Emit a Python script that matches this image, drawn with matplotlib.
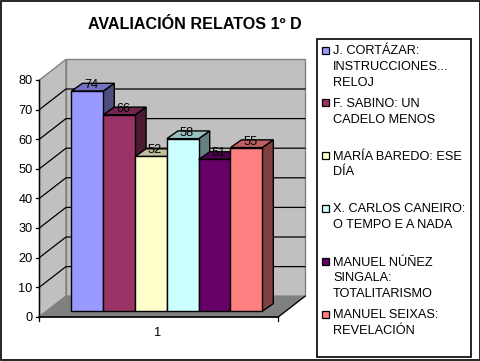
import matplotlib
matplotlib.use("Agg")
import numpy as np
import matplotlib.pyplot as plt
from matplotlib.patches import Polygon, Rectangle

plt.rcParams['font.family'] = ['Liberation Sans', 'DejaVu Sans']

names = [
    ["J. CORTÁZAR:", "INSTRUCCIONES...", "RELOJ"],
    ["F. SABINO: UN", "CADELO MENOS"],
    ["MARÍA BAREDO: ESE", "DÍA"],
    ["X. CARLOS CANEIRO:", "O TEMPO E A NADA"],
    ["MANUEL NÚÑEZ", "SINGALA:", "TOTALITARISMO"],
    ["MANUEL SEIXAS:", "REVELACIÓN"],
]
values = [74, 66, 52, 58, 51, 55]
colors = ["#9999FF", "#993366", "#FFFFCC", "#CCFFFF", "#660066", "#FF8080"]
y_ticks = [0, 10, 20, 30, 40, 50, 60, 70, 80]

W, H = 481, 361
FS = 9.15
CAP = 4.5  # half cap height, to put the baseline under a centre line

# 3d box layout, in pixels
X0, X1 = 39.5, 278.5
Y0, PX_PER_UNIT = 316.7, 2.96
DX, DY = 26.5, -20.5
BAR_L, BAR_W = 71.5, 31.8
BAR_DX, BAR_DY = 11, -7.7
BAR_BASE, BAR_PX_PER_UNIT = 311.3, 2.977


def val_y(v):
    return Y0 - v * PX_PER_UNIT


def bar_y(v):
    return BAR_BASE - v * BAR_PX_PER_UNIT


def shade(color, k):
    rgb = np.array(matplotlib.colors.to_rgb(color))
    return tuple(rgb * k)


def poly(ax, pts, fc, ec="black", lw=1.0, z=1):
    ax.add_patch(Polygon(pts, closed=True, facecolor=fc, edgecolor=ec, linewidth=lw, zorder=z, joinstyle="miter"))


fig = plt.figure(figsize=(W / 100, H / 100), dpi=100, facecolor="white")
ax = fig.add_axes([0, 0, 1, 1])
ax.set_xlim(0, W)
ax.set_ylim(H, 0)
ax.axis("off")

# outer frame
ax.add_patch(Rectangle((0.5, 0.5), W - 1.5, H - 1.5, fill=False, edgecolor="black", linewidth=1.2))

top = val_y(y_ticks[-1])

# walls and floor
poly(ax, [(X0 + DX, Y0 + DY), (X1 + DX, Y0 + DY), (X1 + DX, top + DY), (X0 + DX, top + DY)], "#C0C0C0", ec="#808080")
poly(ax, [(X0, Y0), (X0 + DX, Y0 + DY), (X0 + DX, top + DY), (X0, top)], "#C0C0C0", ec="#808080")
poly(ax, [(X0, Y0), (X1, Y0), (X1 + DX, Y0 + DY), (X0 + DX, Y0 + DY)], "#808080", ec="#808080")

# gridlines
for t in y_ticks[1:-1]:
    y = val_y(t)
    ax.plot([X0, X0 + DX, X1 + DX], [y, y + DY, y + DY], color="black", lw=0.9, zorder=2)

# axes lines and ticks
ax.plot([X0, X0], [top, Y0], color="black", lw=1.0, zorder=6)
ax.plot([X0, X1], [Y0, Y0], color="black", lw=1.2, zorder=6)
ax.plot([X1, X1 + DX], [Y0, Y0 + DY], color="black", lw=0.9, zorder=6)
for t in y_ticks:
    y = val_y(t)
    ax.plot([X0 - 3, X0], [y, y], color="black", lw=0.9, zorder=6)
    ax.text(X0 - 7, y + CAP, str(t), ha="right", va="baseline", fontsize=FS, zorder=7)
ax.plot([X0, X0], [Y0, Y0 + 4], color="black", lw=0.9, zorder=6)
ax.plot([X1, X1], [Y0, Y0 + 4], color="black", lw=0.9, zorder=6)
ax.text((X0 + X1) / 2 - 1, 332 + CAP, "1", ha="center", va="baseline", fontsize=FS)

# bars, left to right so that the later ones cover the side of the earlier ones
for i, (v, c) in enumerate(zip(values, colors)):
    l = BAR_L + i * BAR_W
    r = l + BAR_W
    y = bar_y(v)
    poly(ax, [(r, y), (r + BAR_DX, y + BAR_DY), (r + BAR_DX, BAR_BASE + BAR_DY), (r, BAR_BASE)], shade(c, 0.5), z=3 + i * 0.1)
    poly(ax, [(l, y), (r, y), (r + BAR_DX, y + BAR_DY), (l + BAR_DX, y + BAR_DY)], shade(c, 0.75), z=3 + i * 0.1)
    poly(ax, [(l, y), (r, y), (r, BAR_BASE), (l, BAR_BASE)], c, z=3 + i * 0.1 + 0.05)

for i, v in enumerate(values):
    l = BAR_L + i * BAR_W
    ax.text(l + BAR_W / 2 + 4, bar_y(v) - 7.5 + CAP, str(v), ha="center", va="baseline", fontsize=FS, zorder=8)

# title
ax.text(194.5, 29, "AVALIACIÓN RELATOS 1º D", ha="center", va="baseline", fontsize=11.6, fontweight="bold")

# legend
ax.add_patch(Rectangle((317.5, 38.5), 154, 318, facecolor="white", edgecolor="black", linewidth=1.2, zorder=1))
entry_y = [50, 102.3, 155, 208, 261, 314]
for lines, c, y in zip(names, colors, entry_y):
    ax.add_patch(Rectangle((322, y - 3.5), 7, 7, facecolor=c, edgecolor="black", linewidth=0.9, zorder=2))
    for j, line in enumerate(lines):
        ax.text(333, y + j * 15.8 + CAP, line, ha="left", va="baseline", fontsize=FS, zorder=3)

fig.savefig("out.png", dpi=100)
